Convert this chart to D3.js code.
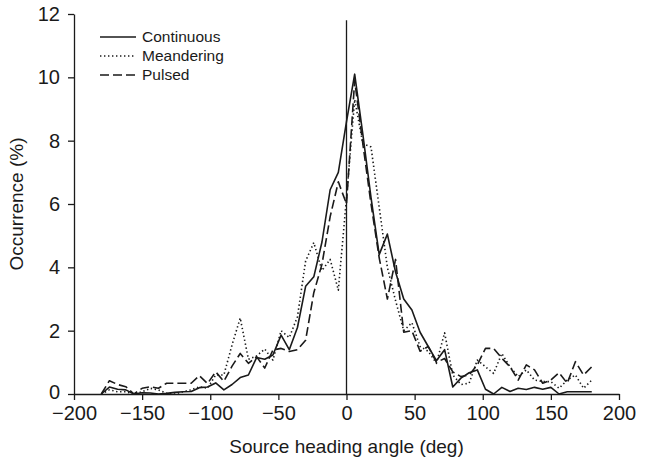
<!DOCTYPE html>
<html>
<head>
<meta charset="utf-8">
<script src="https://cdn.jsdelivr.net/npm/d3@7"></script>
<style>
  body { margin: 0; background: #fff; }
  svg { font-family: "Liberation Sans", Arial, sans-serif; }
</style>
</head>
<body>
<div id="chart"></div>
<script>
// heading angle bins (deg)
const angles = [
  -180, -174, -168, -162, -156, -150, -144, -138, -132, -126,
  -120, -114, -108, -102, -96, -90, -84, -78, -72, -66,
  -60, -54, -48, -42, -36, -30, -24, -18, -12, -6,
  0, 6, 12, 18, 24, 30, 36, 42, 48, 54,
  60, 66, 72, 78, 84, 90, 96, 102, 108, 114,
  120, 126, 132, 138, 144, 150, 156, 162, 168, 174, 180
];

// occurrence (%) per series
const continuous = [
  0, 0.22, 0.15, 0.13, 0, 0.04, 0.03, 0, 0.02, 0.05,
  0.07, 0.08, 0.2, 0.22, 0.35, 0.13, 0.3, 0.52, 0.6, 1.15,
  1.1, 1.23, 1.86, 1.4, 2.1, 3.4, 3.7, 4.8, 6.45, 7.0,
  8.6, 10.1, 8.2, 6.2, 4.4, 5.05, 3.85, 3.0, 2.65, 1.95,
  1.5, 1.05, 1.4, 0.22, 0.5, 0.67, 0.76, 0.15, 0, 0.21,
  0.08, 0.18, 0.14, 0.21, 0.15, 0.21, 0, 0.07, 0.07, 0.07, 0.07
];
const meandering = [
  0, 0.13, 0.07, 0.07, 0, 0.07, 0.18, 0.13, 0.02, 0,
  0.07, 0.13, 0.23, 0.18, 0.6, 0.6, 1.55, 2.4, 1.1, 1.2,
  1.42, 1.07, 2.0, 1.78, 2.44, 4.2, 4.78, 3.9, 4.25, 3.28,
  6.2, 9.3, 7.9, 7.8, 5.9, 4.0, 2.95, 2.0, 2.25, 1.5,
  1.35, 0.97, 1.93, 0.6, 0.3, 0.34, 1.07, 0.86, 0.65, 1.28,
  0.86, 0.55, 0.76, 0.44, 0.39, 0.39, 0.18, 0.44, 0.6, 0.18, 0.44
];
const pulsed = [
  0, 0.42, 0.3, 0.23, 0, 0.18, 0.23, 0.18, 0.34, 0.34,
  0.34, 0.34, 0.58, 0.33, 0.7, 0.4, 0.88, 1.28, 0.97, 1.18,
  0.82, 1.39, 1.44, 1.34, 1.4, 1.7, 3.2, 4.1, 5.6, 6.7,
  6.0, 9.9, 7.9, 6.0, 4.3, 3.0, 4.25, 1.95, 2.0, 1.35,
  1.5, 1.0, 1.12, 0.7, 0.55, 0.6, 0.92, 1.44, 1.44, 1.13,
  0.86, 0.44, 0.92, 0.76, 0.34, 0.44, 0.67, 0.34, 1.02, 0.6, 0.86
];

const seriesNames = ["Continuous", "Meandering", "Pulsed"];
const xTicks = [-200, -150, -100, -50, 0, 50, 100, 150, 200];
const yTicks = [0, 2, 4, 6, 8, 10, 12];

const width = 650, height = 461;
const margin = { top: 14, right: 31, bottom: 67, left: 74 };
const innerW = width - margin.left - margin.right;
const innerH = height - margin.top - margin.bottom;

const svg = d3.select("#chart").append("svg")
  .attr("width", width)
  .attr("height", height);

const g = svg.append("g")
  .attr("transform", "translate(" + margin.left + "," + margin.top + ")");

const x = d3.scaleLinear().domain([-200, 200]).range([0, innerW]);
const y = d3.scaleLinear().domain([0, 12]).range([innerH, 0]);

const ink = "#1a1a1a";

// axes
const xAxis = g.append("g")
  .attr("transform", "translate(0," + innerH + ")")
  .call(d3.axisBottom(x).tickValues(xTicks).tickSizeInner(6).tickSizeOuter(0).tickPadding(6));
const yAxis = g.append("g")
  .call(d3.axisLeft(y).tickValues(yTicks).tickSizeInner(6).tickSizeOuter(0).tickPadding(8));

[xAxis, yAxis].forEach(a => {
  a.selectAll("path, line").attr("stroke", ink).attr("stroke-width", 1.3);
  a.selectAll("text").attr("fill", ink).style("font-size", "20px")
    .style("font-family", "'Liberation Sans', Arial, sans-serif");
});
// nudge the y "0" label up a touch so it clears the "−200" label
yAxis.selectAll(".tick text").filter(d => d === 0).attr("dy", "0.2em");

// vertical reference line at 0 deg
g.append("line")
  .attr("x1", x(0)).attr("x2", x(0))
  .attr("y1", y(11.8)).attr("y2", y(0))
  .attr("stroke", ink).attr("stroke-width", 1.3);

const styles = {
  Continuous: { data: continuous, dash: null, w: 1.6 },
  Meandering: { data: meandering, dash: "1.4,2.6", w: 1.6 },
  Pulsed: { data: pulsed, dash: "9,4", w: 1.6 }
};

const line = d3.line()
  .x(d => x(d[0]))
  .y(d => y(d[1]));

seriesNames.forEach(name => {
  const s = styles[name];
  g.append("path")
    .datum(angles.map((a, i) => [a, s.data[i]]))
    .attr("fill", "none")
    .attr("stroke", ink)
    .attr("stroke-width", s.w)
    .attr("stroke-linejoin", "round")
    .attr("stroke-dasharray", s.dash)
    .attr("d", line);
});

// legend
const legend = svg.append("g").attr("transform", "translate(100,37)");
seriesNames.forEach((name, i) => {
  const s = styles[name];
  const row = legend.append("g").attr("transform", "translate(0," + i * 19 + ")");
  row.append("line")
    .attr("x1", 0).attr("x2", 36)
    .attr("stroke", ink).attr("stroke-width", s.w)
    .attr("stroke-dasharray", s.dash);
  row.append("text")
    .attr("x", 42).attr("y", 0).attr("dy", "0.35em")
    .attr("fill", ink)
    .style("font-size", "15.5px")
    .text(name);
});

// axis titles
svg.append("text")
  .attr("x", margin.left + x(0)).attr("y", 453)
  .attr("text-anchor", "middle")
  .attr("fill", ink)
  .style("font-size", "19px")
  .text("Source heading angle (deg)");

svg.append("text")
  .attr("transform", "translate(23," + (margin.top + innerH / 2) + ") rotate(-90)")
  .attr("text-anchor", "middle")
  .attr("fill", ink)
  .style("font-size", "19px")
  .text("Occurrence (%)");
</script>
</body>
</html>
